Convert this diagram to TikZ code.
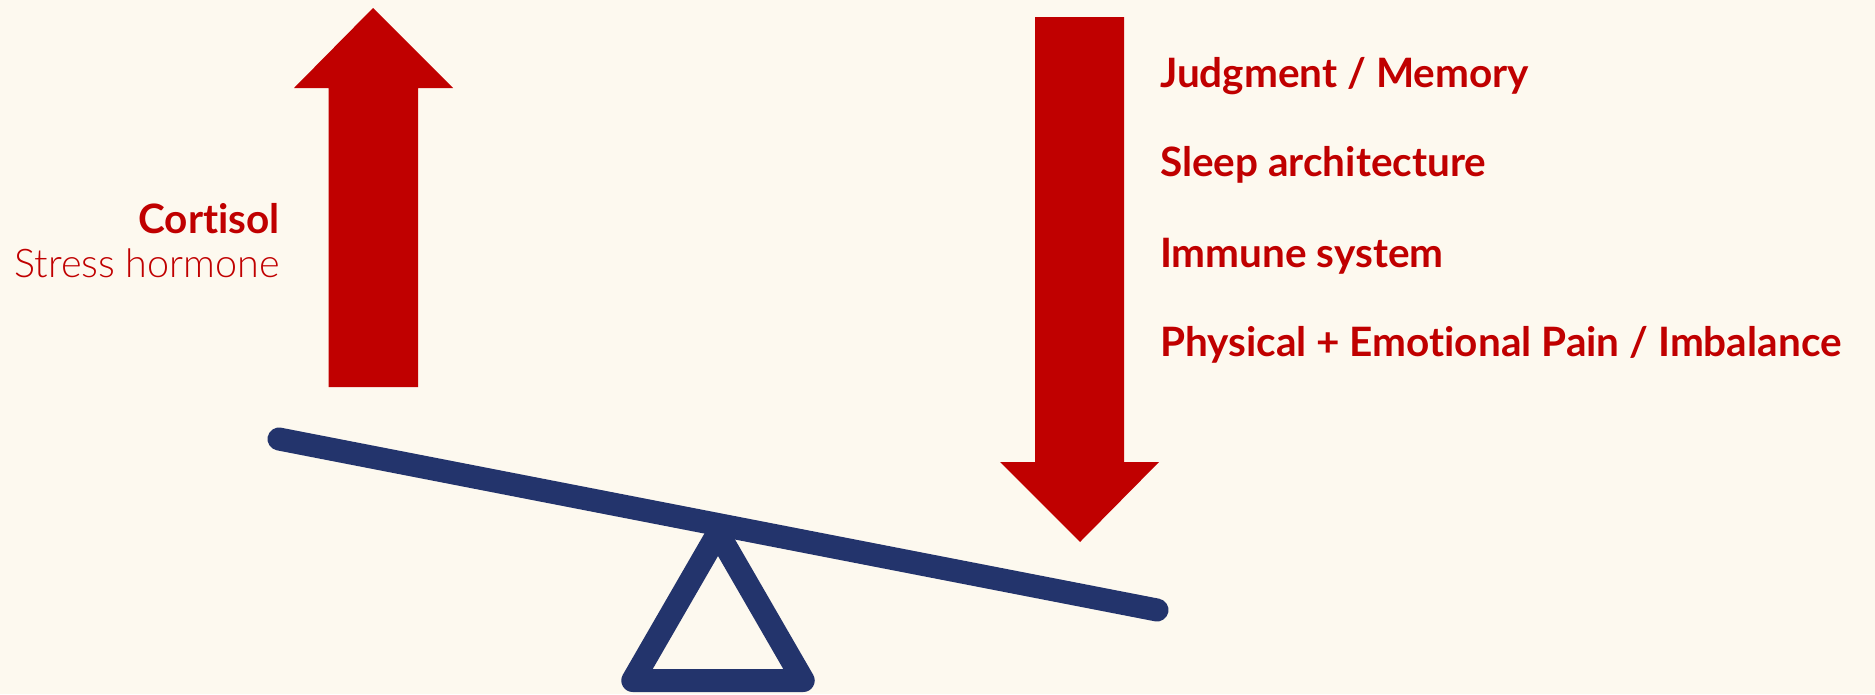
\documentclass[tikz,border=0pt]{standalone}
\usepackage{tikz}
\usetikzlibrary{positioning}
\usepackage{fontspec}
\setmainfont{Lato}[Ligatures=NoCommon]
\newfontfamily\lightfont{Lato Light}[Ligatures=NoCommon]
\usepackage{xcolor}
\definecolor{mycream}{RGB}{253,249,239}
\definecolor{myred}{RGB}{192,0,0}
\definecolor{mynavy}{RGB}{35,52,108}

\begin{document}
\begin{tikzpicture}[x=1pt,y=-1pt,
    bigarrow/.style={fill=myred},
    beam/.style={draw=mynavy,line width=23pt,line cap=round,line join=round},
    boldlabel/.style={text=myred,font=\fontsize{40.5}{44}\selectfont\bfseries,inner sep=0pt},
    lightlabel/.style={text=myred,font=\fontsize{39.5}{44}\selectfont\lightfont,inner sep=0pt}]
                    \fill[mycream] (0,0) rectangle (1875,694);
                    \useasboundingbox (0,0) rectangle (1875,694);
                    % arrows
                    \fill[bigarrow] (328.5,387) -- (328.5,88) -- (294,88) -- (373,8) -- (453,88) -- (418,88) -- (418,387) -- cycle;
                    \fill[bigarrow] (1035,17) -- (1124,17) -- (1124,462) -- (1159,462) -- (1080,542) -- (1000,462) -- (1035,462) -- cycle;
                    % seesaw
                    \coordinate (beamleft) at (279,439);
                    \coordinate (beamright) at (1157,610);
                    \draw[beam] (beamleft) -- (beamright);
                    \draw[beam] (718,533) -- (632.8,680.5) -- (803.2,680.5) -- cycle;
                    % labels
                    \node[boldlabel,anchor=base east] (cortisol) at (280,233) {Cortisol};
                    \node[lightlabel,anchor=base east] (stress) at (280,277) {Stress hormone};
                    \node[boldlabel,anchor=base west] (judgment) at (1160,87) {Judgment / Memory};
                    \node[boldlabel,anchor=base west] (sleep) at (1160,176) {Sleep architecture};
                    \node[boldlabel,anchor=base west] (immune) at (1160,267) {Immune system};
                    \node[boldlabel,anchor=base west] (pain) at (1160,356) {Physical + Emotional Pain / Imbalance};
                \end{tikzpicture}
\end{document}
